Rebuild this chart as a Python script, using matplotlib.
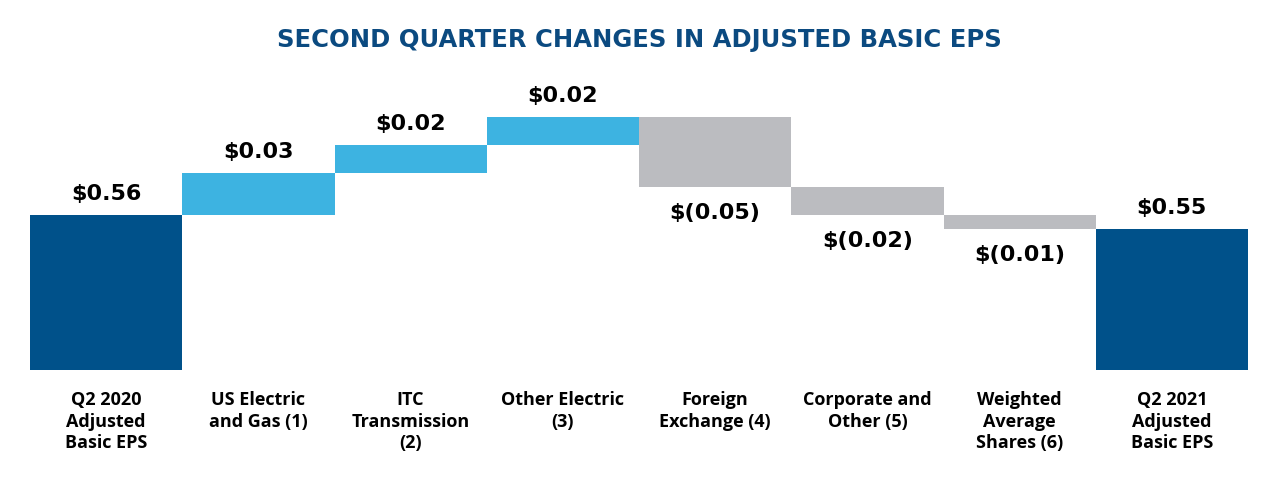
import matplotlib.pyplot as plt

categories = ["Q2 2020\nAdjusted\nBasic EPS", "US Electric\nand Gas (1)", "ITC\nTransmission\n(2)",
              "Other Electric\n(3)", "Foreign\nExchange (4)", "Corporate and\nOther (5)",
              "Weighted\nAverage\nShares (6)", "Q2 2021\nAdjusted\nBasic EPS"]
start_value = 0.56
changes = [0.03, 0.02, 0.02, -0.05, -0.02, -0.01]
end_value = 0.55
labels = ["$0.56", "$0.03", "$0.02", "$0.02", "$(0.05)", "$(0.02)", "$(0.01)", "$0.55"]

dark_blue = "#00518A"
light_blue = "#3DB3E1"
gray = "#BBBCC0"
base = 0.449

fig = plt.figure(figsize=(12.78, 4.8), dpi=100)
ax = fig.add_axes([30 / 1278, 1 - 370 / 480, 1218 / 1278, 280 / 480])

x = range(len(categories))
bottoms = [base]
heights = [start_value - base]
colors = [dark_blue]
level = start_value
for c in changes:
    if c >= 0:
        bottoms.append(level)
        heights.append(c)
        colors.append(light_blue)
    else:
        bottoms.append(level + c)
        heights.append(-c)
        colors.append(gray)
    level += c
bottoms.append(base)
heights.append(end_value - base)
colors.append(dark_blue)

ax.bar(x, heights, bottom=bottoms, width=1.0, color=colors, edgecolor="none")

# value labels
vals = [start_value] + changes + [end_value]
for i, (b, h, v, lab) in enumerate(zip(bottoms, heights, vals, labels)):
    if v >= 0:
        ax.annotate(lab, (i, b + h), xytext=(0, 7.5), textcoords="offset points",
                    ha="center", va="bottom", fontsize=16, fontweight="bold",
                    family="DejaVu Sans")
    else:
        ax.annotate(lab, (i, b), xytext=(0, -11.5), textcoords="offset points",
                    ha="center", va="top", fontsize=16, fontweight="bold",
                    family="DejaVu Sans")

# category labels
for i, cat in enumerate(categories):
    ax.annotate(cat, (i, base), xytext=(0, -15), textcoords="offset points",
                ha="center", va="top", fontsize=13, fontweight="bold",
                family="Open Sans", linespacing=1.27)

ax.set_xlim(-0.5, len(categories) - 0.5)
ax.set_ylim(base, 0.649)
ax.axis("off")

fig.text(0.5, 1 - 40 / 480, "SECOND QUARTER CHANGES IN ADJUSTED BASIC EPS",
         ha="center", va="center", fontsize=17.5, fontweight="bold",
         color="#0B4A80", family="DejaVu Sans")

fig.savefig("out.png", dpi=100)
